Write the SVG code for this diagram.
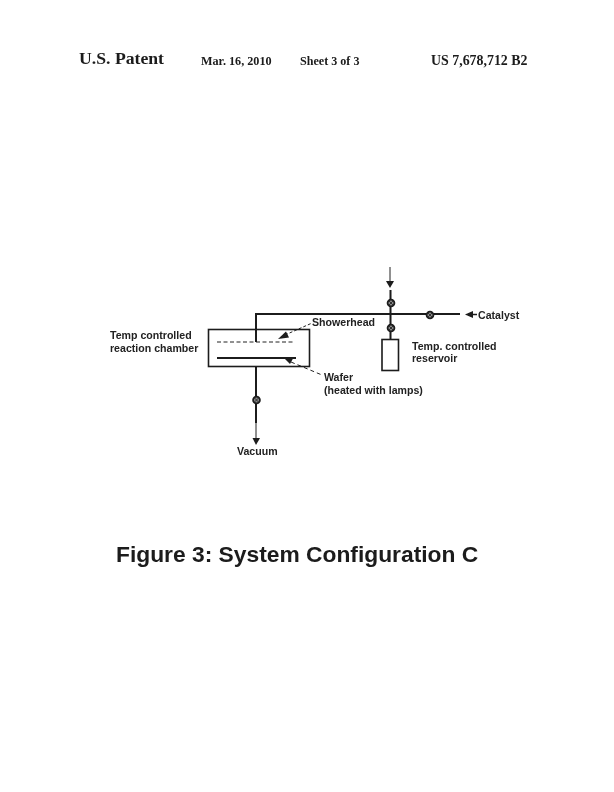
<svg xmlns="http://www.w3.org/2000/svg" width="614" height="792" viewBox="0 0 614 792">
<style>
text{font-family:"Liberation Sans",Arial,sans-serif;fill:#1a1a1a}
.h{font-family:"Liberation Serif","Times New Roman",serif;font-weight:bold}
.l{font-size:10.6px;font-weight:bold;fill:#222}
.p{stroke:#1a1a1a;stroke-width:2;fill:none}
.t{stroke:#222;stroke-width:1;fill:none}
.v{fill:#888;stroke:#1a1a1a;stroke-width:1.800}
.x{stroke:#1a1a1a;stroke-width:.8;fill:none}
.a{fill:#1a1a1a;stroke:none}
</style>
<defs>
<filter id="scan" x="0" y="0" width="100%" height="100%"><feGaussianBlur stdDeviation="0.35"/></filter>
<g id="valve"><circle class="v" r="3.400"/><path class="x" d="M-2-2L2 2M-2 2L2-2"/></g>
</defs>
<rect width="614" height="792" fill="#fff"/>
<g filter="url(#scan)">
<g id="header">
<text class="h" x="79" y="64" font-size="17.700">U.S. Patent</text>
<text class="h" x="201" y="65" font-size="12.200">Mar. 16, 2010</text>
<text class="h" x="300" y="65" font-size="12.100">Sheet 3 of 3</text>
<text class="h" x="431" y="65" font-size="13.900">US 7,678,712 B2</text>
</g>
<g id="connectors">
<path class="p" d="M256 342V314H460"/>
<path class="p" d="M390.500 290V339"/>
<path class="p" d="M256 367V423"/>
<path class="t" d="M390 267V283"/>
<path class="t" d="M256 423V440"/>
<path class="a" d="M386 281H394L390 288Z"/>
<path class="a" d="M252.500 438H260L256 445Z"/>
<path class="a" d="M465 314.500L473 311V318Z"/>
<path class="p" style="stroke-width:1.500" d="M473 314.500H477"/>
<path class="t" stroke-dasharray="3 2" d="M285 335L311 323.500"/>
<path class="a" d="M278 339L286 331.500L289 337.500Z"/>
<path class="t" stroke-dasharray="4 3" d="M291 362L322 375"/>
<path class="a" d="M284 358L293 358.500L290 364Z"/>
</g>
<g id="valve-top"><use href="#valve" x="391" y="303"/></g>
<g id="valve-reservoir"><use href="#valve" x="391" y="328"/></g>
<g id="valve-catalyst"><use href="#valve" x="430" y="315"/></g>
<g id="valve-vacuum"><use href="#valve" x="256.500" y="400"/></g>
<g id="chamber">
<rect x="208.500" y="329.500" width="101" height="37" fill="none" stroke="#1a1a1a" stroke-width="1.600"/>
<path class="t" stroke-dasharray="4 2.500" d="M217 342H295"/>
<path class="p" d="M217 358H296"/>
<text class="l" x="110" y="339">Temp controlled</text>
<text class="l" x="110" y="352">reaction chamber</text>
</g>
<g id="reservoir">
<rect x="382" y="339.500" width="16.500" height="31" fill="#fff" stroke="#1a1a1a" stroke-width="1.600"/>
<text class="l" x="412" y="350">Temp. controlled</text>
<text class="l" x="412" y="362">reservoir</text>
</g>
<g id="labels">
<text class="l" x="312" y="326">Showerhead</text>
<text class="l" x="324" y="381">Wafer</text>
<text class="l" x="324" y="394">(heated with lamps)</text>
<text class="l" x="478" y="319">Catalyst</text>
<text class="l" x="237" y="455">Vacuum</text>
</g>
<text id="title" x="116" y="562" font-size="22.800" font-weight="bold">Figure 3: System Configuration C</text>
</g>
</svg>
